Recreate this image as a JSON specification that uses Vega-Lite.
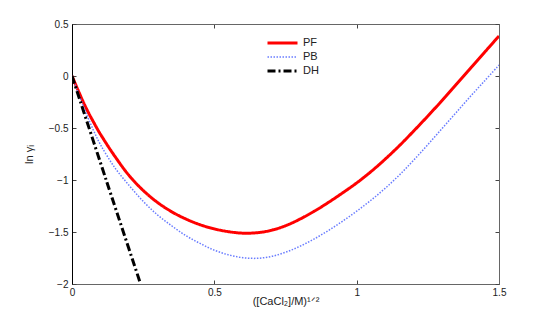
{
  "$schema": "https://vega.github.io/schema/vega-lite/v6.json",
  "width": 427,
  "height": 260,
  "autosize": "none",
  "padding": {"left": 72, "top": 24, "right": 52, "bottom": 37},
  "background": "white",
  "config": {
    "view": {"stroke": "#666", "strokeWidth": 1},
    "font": "Liberation Sans",
    "axis": {"grid": false, "labelFont": "Liberation Sans", "titleFont": "Liberation Sans", "labelColor": "#222", "titleColor": "#222", "titleFontWeight": "normal", "labelFontSize": 10, "titleFontSize": 11}
  },
  "data": {"values": [
    {"x": 0, "y": 0, "s": "PF"},
    {"x": 0.025, "y": -0.16, "s": "PF"},
    {"x": 0.05, "y": -0.31, "s": "PF"},
    {"x": 0.075, "y": -0.44, "s": "PF"},
    {"x": 0.1, "y": -0.56, "s": "PF"},
    {"x": 0.15, "y": -0.77, "s": "PF"},
    {"x": 0.2, "y": -0.955, "s": "PF"},
    {"x": 0.25, "y": -1.1, "s": "PF"},
    {"x": 0.3, "y": -1.215, "s": "PF"},
    {"x": 0.35, "y": -1.305, "s": "PF"},
    {"x": 0.4, "y": -1.375, "s": "PF"},
    {"x": 0.45, "y": -1.43, "s": "PF"},
    {"x": 0.5, "y": -1.47, "s": "PF"},
    {"x": 0.55, "y": -1.497, "s": "PF"},
    {"x": 0.6, "y": -1.511, "s": "PF"},
    {"x": 0.65, "y": -1.507, "s": "PF"},
    {"x": 0.7, "y": -1.484, "s": "PF"},
    {"x": 0.75, "y": -1.44, "s": "PF"},
    {"x": 0.8, "y": -1.377, "s": "PF"},
    {"x": 0.85, "y": -1.302, "s": "PF"},
    {"x": 0.9, "y": -1.217, "s": "PF"},
    {"x": 0.95, "y": -1.125, "s": "PF"},
    {"x": 1.0, "y": -1.028, "s": "PF"},
    {"x": 1.05, "y": -0.92, "s": "PF"},
    {"x": 1.1, "y": -0.8, "s": "PF"},
    {"x": 1.15, "y": -0.67, "s": "PF"},
    {"x": 1.2, "y": -0.53, "s": "PF"},
    {"x": 1.25, "y": -0.385, "s": "PF"},
    {"x": 1.3, "y": -0.235, "s": "PF"},
    {"x": 1.35, "y": -0.08, "s": "PF"},
    {"x": 1.4, "y": 0.075, "s": "PF"},
    {"x": 1.45, "y": 0.23, "s": "PF"},
    {"x": 1.5, "y": 0.385, "s": "PF"},
    {"x": 0, "y": 0, "s": "PB"},
    {"x": 0.025, "y": -0.185, "s": "PB"},
    {"x": 0.05, "y": -0.36, "s": "PB"},
    {"x": 0.075, "y": -0.52, "s": "PB"},
    {"x": 0.1, "y": -0.66, "s": "PB"},
    {"x": 0.15, "y": -0.88, "s": "PB"},
    {"x": 0.2, "y": -1.05, "s": "PB"},
    {"x": 0.25, "y": -1.205, "s": "PB"},
    {"x": 0.3, "y": -1.335, "s": "PB"},
    {"x": 0.35, "y": -1.44, "s": "PB"},
    {"x": 0.4, "y": -1.535, "s": "PB"},
    {"x": 0.45, "y": -1.61, "s": "PB"},
    {"x": 0.5, "y": -1.675, "s": "PB"},
    {"x": 0.55, "y": -1.72, "s": "PB"},
    {"x": 0.6, "y": -1.747, "s": "PB"},
    {"x": 0.65, "y": -1.753, "s": "PB"},
    {"x": 0.7, "y": -1.735, "s": "PB"},
    {"x": 0.75, "y": -1.695, "s": "PB"},
    {"x": 0.8, "y": -1.638, "s": "PB"},
    {"x": 0.85, "y": -1.568, "s": "PB"},
    {"x": 0.9, "y": -1.487, "s": "PB"},
    {"x": 0.95, "y": -1.397, "s": "PB"},
    {"x": 1.0, "y": -1.3, "s": "PB"},
    {"x": 1.05, "y": -1.195, "s": "PB"},
    {"x": 1.1, "y": -1.08, "s": "PB"},
    {"x": 1.15, "y": -0.952, "s": "PB"},
    {"x": 1.2, "y": -0.81, "s": "PB"},
    {"x": 1.25, "y": -0.66, "s": "PB"},
    {"x": 1.3, "y": -0.505, "s": "PB"},
    {"x": 1.35, "y": -0.35, "s": "PB"},
    {"x": 1.4, "y": -0.195, "s": "PB"},
    {"x": 1.45, "y": -0.045, "s": "PB"},
    {"x": 1.5, "y": 0.105, "s": "PB"},
    {"x": 0, "y": 0, "s": "DH"},
    {"x": 0.12, "y": -1.0, "s": "DH"},
    {"x": 0.241, "y": -2.0, "s": "DH"}
  ]},
  "resolve": {"axis": {"x": "independent", "y": "independent"}},
  "layer": [
    {
      "mark": {"type": "line", "clip": true, "interpolate": "catmull-rom"},
      "encoding": {
        "x": {"field": "x", "type": "quantitative", "scale": {"domain": [0, 1.5], "nice": false, "zero": false},
          "axis": {"orient": "bottom", "values": [0, 0.5, 1, 1.5], "format": "~g", "tickSize": -4, "tickColor": "#444", "domainColor": "#666", "labelPadding": 7, "title": "([CaCl₂]/M)¹ᐟ²", "titlePadding": -2, "labelFlush": false}},
        "y": {"field": "y", "type": "quantitative", "scale": {"domain": [-2, 0.5], "nice": false, "zero": false},
          "axis": {"orient": "left", "values": [-2, -1.5, -1, -0.5, 0, 0.5], "format": "~g", "tickSize": -4, "tickColor": "#444", "domainColor": "#000", "labelPadding": 8, "title": "ln γᵢ", "titlePadding": 14, "labelFlush": false}},
        "color": {"field": "s", "type": "nominal", "scale": {"domain": ["PF", "PB", "DH"], "range": ["#ff0000", "#6a7dff", "#000000"]},
          "legend": {"title": null, "orient": "none", "legendX": 194, "legendY": 12, "symbolType": "stroke", "symbolSize": 900, "clipHeight": 14, "labelFontSize": 11, "labelColor": "#222", "rowPadding": 0, "labelOffset": 4}},
        "strokeDash": {"field": "s", "type": "nominal", "scale": {"domain": ["PF", "PB", "DH"], "range": [[1, 0], [1.5, 1.5], [8, 3, 2, 3]]}, "legend": null},
        "strokeWidth": {"field": "s", "type": "nominal", "scale": {"type": "ordinal", "domain": ["PF", "PB", "DH"], "range": [3, 1.5, 3]}, "legend": null},
        "order": {"field": "x", "type": "quantitative"}
      }
    },
    {
      "mark": {"type": "line", "opacity": 0},
      "encoding": {
        "x": {"field": "x", "type": "quantitative", "scale": {"domain": [0, 1.5], "nice": false, "zero": false},
          "axis": {"orient": "top", "values": [0, 0.5, 1, 1.5], "tickSize": -4, "tickColor": "#444", "domainColor": "#666", "labels": false, "title": null}},
        "y": {"field": "y", "type": "quantitative", "scale": {"domain": [-2, 0.5], "nice": false, "zero": false},
          "axis": {"orient": "right", "values": [-2, -1.5, -1, -0.5, 0, 0.5], "tickSize": -4, "tickColor": "#444", "domainColor": "#666", "labels": false, "title": null}},
        "detail": {"field": "s", "type": "nominal"}
      }
    }
  ]
}
